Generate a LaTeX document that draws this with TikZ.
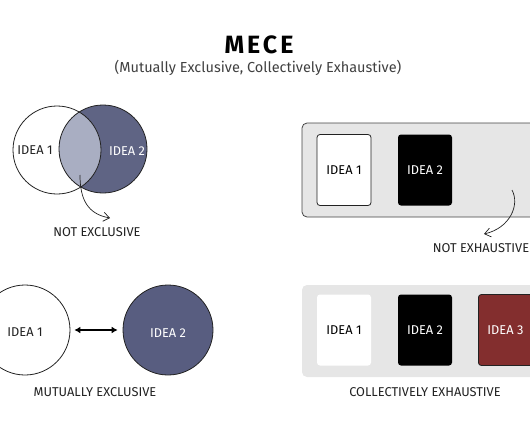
\documentclass[tikz,border=0pt]{standalone}
\usepackage{fontspec}
\setmainfont{Fira Sans}
\usetikzlibrary{arrows.meta}
\definecolor{slate}{HTML}{5F6484}
\definecolor{slatelight}{HTML}{A9AEC2}
\definecolor{slatefull}{HTML}{585D80}
\definecolor{boxgray}{HTML}{E6E6E6}
\definecolor{ideared}{HTML}{832E2E}
\definecolor{ink}{HTML}{222222}
\begin{document}
\begin{tikzpicture}[x=1pt,y=-1pt,
  lbl/.style={font=\fontsize{12.8}{14}\selectfont, text=ink},
  card/.style={rounded corners=3pt, minimum width=54pt, minimum height=71pt,
    inner sep=0pt, font=\fontsize{12.8}{14}\selectfont},
  bubble/.style={circle, draw=ink, line width=0.8pt, minimum size=90pt, inner sep=0pt},
  curvearrow/.style={draw=ink, line width=0.7pt, -{Straight Barb[length=6pt,width=9pt]}}]
  \useasboundingbox (0,0) rectangle (530,442);
  \clip (0,0) rectangle (530,442);
  % title
  \node[font=\fontsize{25}{28}\selectfont\bfseries\addfontfeature{LetterSpace=12}] (title) at (259,45) {MECE};
  \node[font=\fontsize{14.5}{16}\selectfont, text=black!75] (subtitle) at (258,68)
    {(Mutually Exclusive, Collectively Exhaustive)};
  % not exclusive: overlapping circles
  \fill[white] (57,150) circle (44);
  \fill[slate] (103,149) circle (44);
  \begin{scope}
    \clip (57,150) circle (44);
    \fill[slatelight] (103,149) circle (44);
  \end{scope}
  \node[circle, draw=ink, line width=0.8pt, minimum size=88pt] (ov1) at (57,150) {};
  \node[circle, draw=ink, line width=0.8pt, minimum size=88pt] (ov2) at (103,149) {};
  \node[lbl] (ov1t) at (35,150) {IDEA 1};
  \node[lbl, text=white] (ov2t) at (127,151) {IDEA 2};
  \coordinate (ovs) at (80,175);
  \coordinate (ove) at (110,218);
  \draw[curvearrow] (ovs) .. controls (80,200) and (88,214) .. (ove);
  \node[lbl] (nex) at (97,232) {NOT EXCLUSIVE};
  % not exhaustive: bordered box with two cards
  \draw[draw=ink!85, fill=boxgray, line width=0.8pt, rounded corners=5pt] (302,123) rectangle (545,217);
  \node[card, draw=ink, line width=0.8pt, fill=white] (na1) at (344,170) {IDEA 1};
  \node[card, fill=black, text=white] (na2) at (425,170) {IDEA 2};
  \coordinate (nas) at (512,190);
  \coordinate (nae) at (484,234);
  \draw[curvearrow] (nas) .. controls (520,205) and (510,228) .. (nae);
  \node[lbl] (nxh) at (481,248) {NOT EXHAUSTIVE};
  % mutually exclusive: separate circles
  \node[bubble, fill=white] (me1) at (25,330) {};
  \node[bubble, fill=slatefull] (me2) at (168,330) {};
  \node[lbl] (me1t) at (25,332) {IDEA 1};
  \node[lbl, text=white] (me2t) at (168,333) {IDEA 2};
  \draw[line width=1.4pt, {Latex[length=6pt,width=7pt]}-{Latex[length=6pt,width=7pt]}] ([xshift=4pt]me1.east) -- ([xshift=-5pt]me2.west);
  \node[lbl] (mex) at (95,392) {MUTUALLY EXCLUSIVE};
  % collectively exhaustive: three cards
  \fill[boxgray, rounded corners=5pt] (302,285) rectangle (545,377);
  \node[card, fill=white] (ce1) at (344,330) {IDEA 1};
  \node[card, fill=black, text=white] (ce2) at (425,330) {IDEA 2};
  \node[card, draw=ink, line width=0.8pt, fill=ideared, text=white, anchor=west] (ce3) at (478,330) {IDEA 3};
  \node[lbl] (cex) at (425,392) {COLLECTIVELY EXHAUSTIVE};
\end{tikzpicture}
\end{document}
